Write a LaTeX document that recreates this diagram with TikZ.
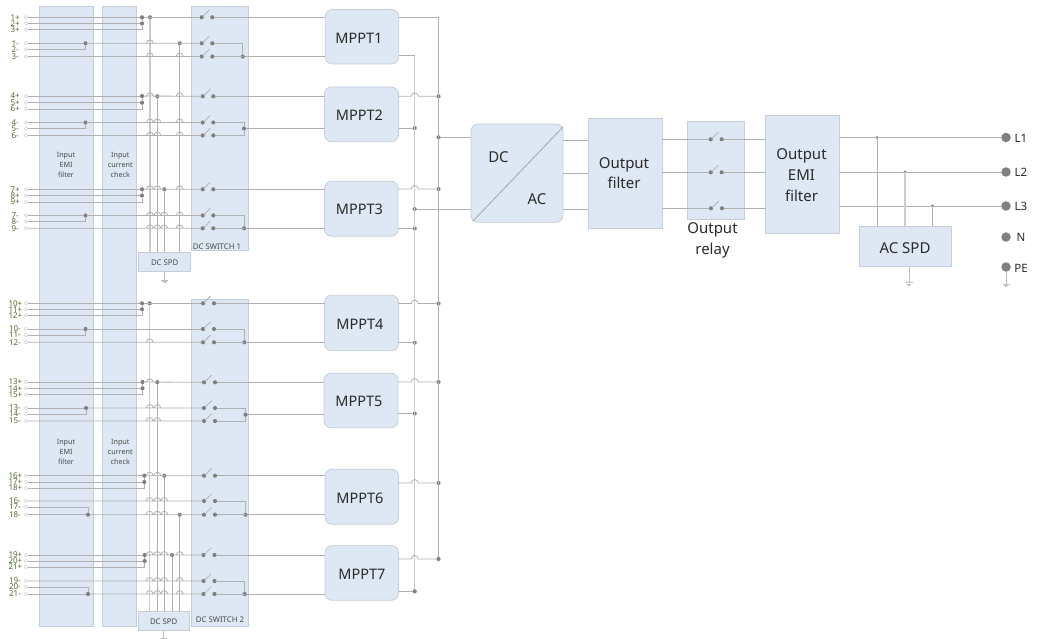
\documentclass[tikz,border=0pt]{standalone}
\usepackage{fontspec}
\setmainfont{Noto Sans}
\usetikzlibrary{calc}
\definecolor{blkfill}{HTML}{DDE8F4}
\definecolor{blkline}{HTML}{C6CED9}
\definecolor{wirec}{HTML}{B0B0B0}
\definecolor{dotc}{HTML}{808080}
\definecolor{txtc}{HTML}{2A2A2A}
\definecolor{lblc}{HTML}{4F6B2E}
\tikzset{
  blk/.style={draw=blkline,fill=blkfill,line width=0.8pt,inner sep=0pt,outer sep=0pt,rectangle,anchor=north west},
  rblk/.style={blk,rounded corners=7pt},
  wire/.style={draw=wirec,line width=0.8pt},
  hwire/.style={draw=black!20,line width=1.4pt},
  junc/.style={circle,fill=dotc,inner sep=0pt,minimum size=4.2pt,outer sep=0pt},
  ljunc/.style={circle,fill=dotc,inner sep=0pt,minimum size=9.5pt,outer sep=0pt},
  term/.style={circle,draw=black!18,fill=white,line width=0.5pt,inner sep=0pt,minimum size=3.6pt,outer sep=0pt},
  rowlbl/.style={text=lblc,anchor=east,inner sep=0pt,font=\fontsize{8}{8}\selectfont},
  smalltxt/.style={text=txtc!85,align=center,inner sep=0pt,font=\fontsize{7.2}{10}\selectfont},
  tagtxt/.style={text=txtc!85,align=center,inner sep=0pt,font=\fontsize{7.8}{10}\selectfont},
  bigtxt/.style={text=txtc,align=center,inner sep=0pt,font=\fontsize{15}{20.7}\selectfont},
  mppttxt/.style={text=txtc,inner sep=0pt,font=\fontsize{14.5}{17}\selectfont},
  ltxt/.style={text=txtc,inner sep=0pt,font=\fontsize{11.5}{14}\selectfont},
}
% box: name, x1, y1, x2, y2, style
\newcommand{\bx}[6]{\node[#6,minimum width={(#4-#2)*1pt},minimum height={(#5-#3)*1pt}] (#1) at (#2,#3) {};}
% switch contact pair: name, xl, xr, y
\newcommand{\swi}[4]{%
  \node[junc] (#1-l) at (#2,#4) {};
  \node[junc] (#1-r) at (#3,#4) {};
  \draw[wire] (#1-l) ++(1,-0.6) -- ++(6.7,-6.7);}
% run with jumps: from, y, list of jump x, to
\newcommand{\runj}[4]{\draw[wire] (#1) \foreach \j in {#3}{ -- ({\j-3.5},#2) .. controls ({\j-3},{#2-4.6}) and ({\j+3},{#2-4.6}) .. ({\j+3.5},#2)} -- (#4);}
% plus group: a,b,c, xdot, ya, yb
\newcommand{\plusg}[6]{%
  \node[junc] (ja#1) at (#4,#5) {};
  \node[junc] (jb#1) at (#4,#6) {};
  \draw[wire] (t#1) -- (ja#1);
  \draw[wire] (t#2) -- (jb#1);
  \draw[wire] (t#3) -| (jb#1) -- (ja#1);}
% minus join: id, joined terminal, main terminal, x, y
\newcommand{\minusg}[5]{%
  \node[junc] (k#1) at (#4,#5) {};
  \draw[wire] (t#2) -| (k#1);
  \draw[wire] (t#3) -- (k#1);}
% paired output: a switch, b switch, x, y, id
\newcommand{\outpair}[5]{%
  \node[junc] (o#5) at (#3,#4) {};
  \draw[wire] (#1-r) -| (o#5);
  \draw[wire] (#2-r) -| (o#5);}
\newcommand{\gnd}[3]{%
  \coordinate (g#1) at ($(#2)+(0,#3)$);
  \draw[wire,draw=black!25] (#2) -- (g#1);
  \draw[draw=black!25,line width=0.6pt] ($(g#1)+(-3.5,0)$) -- ($(g#1)+(3.5,0)$);
  \draw[draw=black!25,line width=0.6pt] ($(g#1)+(-2.2,1.3)$) -- ($(g#1)+(2.2,1.3)$);
  \draw[draw=black!25,line width=0.6pt] ($(g#1)+(-1,2.4)$) -- ($(g#1)+(1,2.4)$);}
\begin{document}
\begin{tikzpicture}[x=1pt,y=-1pt]
\useasboundingbox (0,0) rectangle (1038,639);
% blocks
\bx{emi}{39.3}{6}{93.7}{626}{blk}
\bx{chk}{102}{6}{136.5}{626}{blk}
\bx{sw1}{191}{6}{248.5}{250}{blk}
\bx{sw2}{191}{299}{248.5}{626}{blk}
\bx{spd1}{138.5}{252.3}{190.5}{271.5}{blk}
\bx{spd2}{138.5}{611}{189.5}{630.3}{blk}
\bx{mppt1}{325.3}{9.5}{398.7}{64}{rblk}
\bx{mppt2}{324.5}{87}{398.5}{141.7}{rblk}
\bx{mppt3}{324.5}{181.3}{398}{236.3}{rblk}
\bx{mppt4}{324.5}{295.3}{398.5}{350.7}{rblk}
\bx{mppt5}{324}{373.3}{398}{427.7}{rblk}
\bx{mppt6}{325}{469.3}{398.5}{524.3}{rblk}
\bx{mppt7}{325}{545.7}{398.5}{600.3}{rblk}
\bx{dcac}{471}{124}{563}{222.3}{rblk}
\bx{ofilt}{588.3}{118.3}{662.3}{228.3}{blk}
\bx{relay}{687.3}{121.3}{744.7}{219.3}{blk}
\bx{oemi}{765.7}{115}{839.7}{233.7}{blk}
\bx{acspd}{859}{226}{951.5}{266.7}{blk}
% input terminals
\foreach \n/\y/\l/\xr in {1p/17.3/1+/20,2p/23.5/2+/20,3p/29.7/3+/20,1m/43.3/1-/19,2m/49.5/2-/19,3m/56.5/3-/19,
  4p/96/4+/20,5p/102.7/5+/20,6p/109/6+/20,4m/122.5/4-/19,5m/128.5/5-/19,6m/135.5/6-/19,
  7p/189.3/7+/20,8p/195.5/8+/20,9p/202/9+/20,7m/215.5/7-/19,8m/221.5/8-/19,9m/228.3/9-/19,
  10p/303.3/10+/22.5,11p/309.3/11+/22.5,12p/315.3/12+/22.5,10m/329/10-/21,11m/335/11-/21,12m/342.3/12-/21,
  13p/382/13+/22.5,14p/388.3/14+/22.5,15p/394.7/15+/22.5,13m/408/13-/21,14m/414/14-/21,15m/421/15-/21,
  16p/475.7/16+/22.5,17p/482/17+/22.5,18p/488/18+/22.5,16m/501/16-/21,17m/507/17-/21,18m/514.7/18-/21,
  19p/555/19+/22.5,20p/561/20+/22.5,21p/567/21+/22.5,19m/581/19-/21,20m/587/20-/21,21m/594/21-/21}{
  \node[term] (t\n) at (26,\y) {};
  \node[rowlbl] (l\n) at (\xr,\y) {\l};
}
% DC switch contacts
\swi{a1}{201.7}{212.3}{17.3}
\swi{a2}{201.7}{212.3}{43.3}
\swi{a3}{201.7}{212.3}{56.5}
\swi{b1}{202.7}{213.3}{96.3}
\swi{b2}{202.7}{213.3}{122.5}
\swi{b3}{202.7}{213.3}{135.5}
\swi{c1}{202.7}{213.3}{189.3}
\swi{c2}{202.7}{213.3}{215.5}
\swi{c3}{202.7}{213.3}{228.3}
\swi{d1}{203}{214}{303.3}
\swi{d2}{203}{214}{329}
\swi{d3}{203}{214}{342.3}
\swi{e1}{204}{215}{382.3}
\swi{e2}{204}{215}{408}
\swi{e3}{204}{215}{421}
\swi{f1}{204}{215}{475.7}
\swi{f2}{204}{215}{501}
\swi{f3}{204}{215}{514.7}
\swi{g1}{203.5}{214.5}{555}
\swi{g2}{203.5}{214.5}{581}
\swi{g3}{203.5}{214.5}{594}
% plus groups
\plusg{1p}{2p}{3p}{142}{17.3}{23.5}
\plusg{4p}{5p}{6p}{142}{96}{102.7}
\plusg{7p}{8p}{9p}{142}{189.3}{195.5}
\plusg{10p}{11p}{12p}{142}{303.3}{309.3}
\plusg{13p}{14p}{15p}{142.5}{382}{388.3}
\plusg{16p}{17p}{18p}{144.3}{475.7}{482}
\plusg{19p}{20p}{21p}{144.7}{555}{561}
% minus joins
\minusg{1}{2m}{1m}{85.5}{43.3}
\minusg{4}{5m}{4m}{85.5}{122.5}
\minusg{7}{8m}{7m}{85.5}{215.5}
\minusg{10}{11m}{10m}{85.5}{329}
\minusg{13}{14m}{13m}{86}{408}
\minusg{16}{17m}{18m}{88}{514.7}
\minusg{19}{20m}{21m}{88}{594}
% taps to the SPDs, group 1
\node[junc] (v1) at (150,17.3) {};
\node[junc] (v2) at (157.3,96.3) {};
\node[junc] (v3) at (164.3,189.3) {};
\node[junc] (v4) at (179.7,43.3) {};
\draw[hwire] (v1) -- (v1 |- spd1.north);
\draw[wire] (v2) -- (v2 |- spd1.north);
\draw[wire] (v3) -- (v3 |- spd1.north);
\draw[wire] (v4) -- (v4 |- spd1.north);
% taps to the SPDs, group 2
\node[junc] (w1) at (149.7,303.3) {};
\node[junc] (w2) at (157.3,382.2) {};
\node[junc] (w3) at (164.3,475.7) {};
\node[junc] (w4) at (172,555) {};
\node[junc] (w5) at (179.7,514.7) {};
\draw[hwire] (w1) -- (w1 |- spd2.north);
\draw[wire] (w2) -- (w2 |- spd2.north);
\draw[wire] (w3) -- (w3 |- spd2.north);
\draw[wire] (w4) -- (w4 |- spd2.north);
\draw[wire] (w5) -- (w5 |- spd2.north);
% rows into the switches
\draw[wire] (ja1p) -- (a1-l);
\runj{k1}{43.3}{150}{a2-l}
\runj{t3m}{56.5}{150,179.7}{a3-l}
\runj{ja4p}{96.3}{150,179.7}{b1-l}
\runj{k4}{122.5}{150,157.3,179.7}{b2-l}
\runj{t6m}{135.5}{150,157.3,179.7}{b3-l}
\runj{ja7p}{189.3}{150,157.3,179.7}{c1-l}
\runj{k7}{215.5}{150,157.3,164.3,179.7}{c2-l}
\runj{t9m}{228.3}{150,157.3,164.3,179.7}{c3-l}
\draw[wire] (ja10p) -- (d1-l);
\draw[wire] (k10) -- (d2-l);
\runj{t12m}{342.3}{149.7}{d3-l}
\runj{ja13p}{382.2}{149.7}{e1-l}
\runj{k13}{408}{149.7,157.3}{e2-l}
\runj{t15m}{421}{149.7,157.3}{e3-l}
\runj{ja16p}{475.7}{149.7,157.3}{f1-l}
\runj{t16m}{501}{149.7,157.3,164.3}{f2-l}
\runj{k16}{514.7}{149.7,157.3,164.3}{f3-l}
\runj{ja19p}{555}{149.7,157.3,164.3,179.7}{g1-l}
\runj{t19m}{581}{149.7,157.3,164.3,179.7}{g2-l}
\runj{k19}{594}{149.7,157.3,164.3,179.7}{g3-l}
% switch outputs to the MPPTs
\draw[wire] (a1-r) -- (a1-r -| mppt1.west);
\draw[wire] (b1-r) -- (b1-r -| mppt2.west);
\draw[wire] (c1-r) -- (c1-r -| mppt3.west);
\draw[wire] (d1-r) -- (d1-r -| mppt4.west);
\draw[wire] (e1-r) -- (e1-r -| mppt5.west);
\draw[wire] (f1-r) -- (f1-r -| mppt6.west);
\draw[wire] (g1-r) -- (g1-r -| mppt7.west);
\outpair{a2}{a3}{242.7}{56.5}{a}
\outpair{b2}{b3}{244}{128.5}{b}
\outpair{c2}{c3}{244}{228.3}{c}
\outpair{d2}{d3}{244.3}{342.3}{d}
\outpair{e2}{e3}{245.5}{414.7}{e}
\outpair{f2}{f3}{245.5}{514.7}{f}
\outpair{g2}{g3}{244.7}{594}{g}
\draw[wire] (oa) -- (oa -| mppt1.west);
\draw[wire] (ob) -- (ob -| mppt2.west);
\draw[wire] (oc) -- (oc -| mppt3.west);
\draw[wire] (od) -- (od -| mppt4.west);
\draw[wire] (oe) -- (oe -| mppt5.west);
\draw[wire] (of) -- (of -| mppt6.west);
\draw[wire] (og) -- (og -| mppt7.west);
% DC buses
\coordinate (pbt) at (438.5,17);
\coordinate (nbt) at (414.7,55.5);
\node[junc] (p2) at (438.5,96.3) {};
\node[junc] (p3) at (438.5,189) {};
\node[junc] (p4) at (438.5,303.5) {};
\node[junc] (p5) at (438.5,382) {};
\node[junc] (p6) at (438.5,483) {};
\node[junc] (p7) at (438.5,559) {};
\node[junc] (pd) at (438.5,137.3) {};
\node[junc] (n2) at (414.7,128) {};
\node[junc] (n3) at (414.7,228.5) {};
\node[junc] (n4) at (414.7,342.7) {};
\node[junc] (n5) at (414.7,413.5) {};
\node[junc] (n7) at (414.7,591.3) {};
\node[junc] (nd) at (414.7,209) {};
\draw[wire] (pbt -| mppt1.east) -- (pbt) -- (p7);
\draw[hwire,line width=1.1pt] (nbt) -- (n7);
\draw[wire] (nbt -| mppt1.east) -- (nbt);
\runj{p2 -| mppt2.east}{96.3}{414.7}{p2}
\runj{p3 -| mppt3.east}{189}{414.7}{p3}
\runj{p4 -| mppt4.east}{303.5}{414.7}{p4}
\runj{p5 -| mppt5.east}{382}{414.7}{p5}
\runj{p6 -| mppt6.east}{483}{414.7}{p6}
\runj{p7 -| mppt7.east}{559}{414.7}{p7}
\draw[wire] (n2 -| mppt2.east) -- (n2);
\draw[wire] (n3 -| mppt3.east) -- (n3);
\draw[wire] (n4 -| mppt4.east) -- (n4);
\draw[wire] (n5 -| mppt5.east) -- (n5);
\draw[wire] (n7 -| mppt7.east) -- (n7);
\draw[wire] (pd) -- (pd -| dcac.west);
\draw[wire] (nd) -- (nd -| dcac.west);
% DC/AC diagonal
\draw[wire,draw=black!35] ($(dcac.north east)+(0,3)$) -- ($(dcac.south west)+(2,-1.3)$);
% AC path
\coordinate (ac1) at (563,140.3);
\coordinate (ac2) at (563,173);
\coordinate (ac3) at (563,209);
\draw[wire] (ac1) -- (ac1 -| ofilt.west);
\draw[wire] (ac2) -- (ac2 -| ofilt.west);
\draw[wire] (ac3) -- (ac3 -| ofilt.west);
\swi{r1}{710.7}{721.7}{139.3}
\swi{r2}{710.7}{721.7}{172.3}
\swi{r3}{711}{722}{208.3}
\draw[wire] (r1-l -| ofilt.east) -- (r1-l);
\draw[wire] (r2-l -| ofilt.east) -- (r2-l);
\draw[wire] (r3-l -| ofilt.east) -- (r3-l);
\draw[wire] (r1-r) -- (r1-r -| oemi.west);
\draw[wire] (r2-r) -- (r2-r -| oemi.west);
\draw[wire] (r3-r) -- (r3-r -| oemi.west);
% grid terminals
\node[ljunc] (L1) at (1006,137.5) {};
\node[ljunc] (L2) at (1006,172) {};
\node[ljunc] (L3) at (1006,206) {};
\node[ljunc] (N) at (1006,237) {};
\node[ljunc] (PE) at (1006,267) {};
\node[junc,minimum size=3.4pt] (q1) at (877,137.5) {};
\node[junc,minimum size=3.4pt] (q2) at (905,172) {};
\node[junc,minimum size=3.4pt] (q3) at (932.5,206) {};
\draw[wire] (L1 -| oemi.east) -- (L1);
\draw[wire] (L2 -| oemi.east) -- (L2);
\draw[wire] (L3 -| oemi.east) -- (L3);
\draw[wire] (q1) -- (q1 |- acspd.north);
\draw[hwire,line width=1.1pt] (q2) -- (q2 |- acspd.north);
\draw[wire] (q3) -- (q3 |- acspd.north);
% earth symbols
\coordinate (s1) at (164.5,271.5);
\coordinate (s2) at (163.5,630.3);
\coordinate (s3) at (909,266.7);
\gnd{a}{s1}{8.5}
\gnd{b}{s2}{7.5}
\gnd{c}{s3}{16}
\gnd{d}{PE.south}{12.5}
% texts
\node[smalltxt] (tx1) at (66,164.7) {Input\\EMI\\filter};
\node[smalltxt] (tx2) at (120.3,164.7) {Input\\current\\check};
\node[smalltxt] (tx3) at (66,451.5) {Input\\EMI\\filter};
\node[smalltxt] (tx4) at (120.3,451.5) {Input\\current\\check};
\node[tagtxt] (tx5) at (217,246.5) {DC SWITCH 1};
\node[tagtxt] (tx6) at (220,620) {DC SWITCH 2};
\node[tagtxt] (tx7) at (164.7,262.3) {DC SPD};
\node[tagtxt] (tx8) at (163.7,621.5) {DC SPD};
\node[mppttxt] (tm1) at (359,38.5) {MPPT1};
\node[mppttxt] (tm2) at (359.5,115.5) {MPPT2};
\node[mppttxt] (tm3) at (359.5,209.5) {MPPT3};
\node[mppttxt] (tm4) at (360,324.5) {MPPT4};
\node[mppttxt] (tm5) at (359,401.5) {MPPT5};
\node[mppttxt] (tm6) at (360,498) {MPPT6};
\node[mppttxt] (tm7) at (362,574) {MPPT7};
\node[bigtxt] (td) at (498.5,157) {DC};
\node[bigtxt] (ta) at (537,199) {AC};
\node[bigtxt] (tf) at (624,173) {Output\\filter};
\node[bigtxt] (tr) at (712.5,240.5) {Output\\relay};
\node[bigtxt] (te) at (801.5,175) {Output\\EMI\\filter};
\node[bigtxt] (ts) at (905,248) {AC SPD};
\node[ltxt] (x1) at (1021,138) {L1};
\node[ltxt] (x2) at (1021,172.5) {L2};
\node[ltxt] (x3) at (1021,206.5) {L3};
\node[ltxt] (x4) at (1021,237.5) {N};
\node[ltxt] (x5) at (1021,268) {PE};
\end{tikzpicture}
\end{document}
